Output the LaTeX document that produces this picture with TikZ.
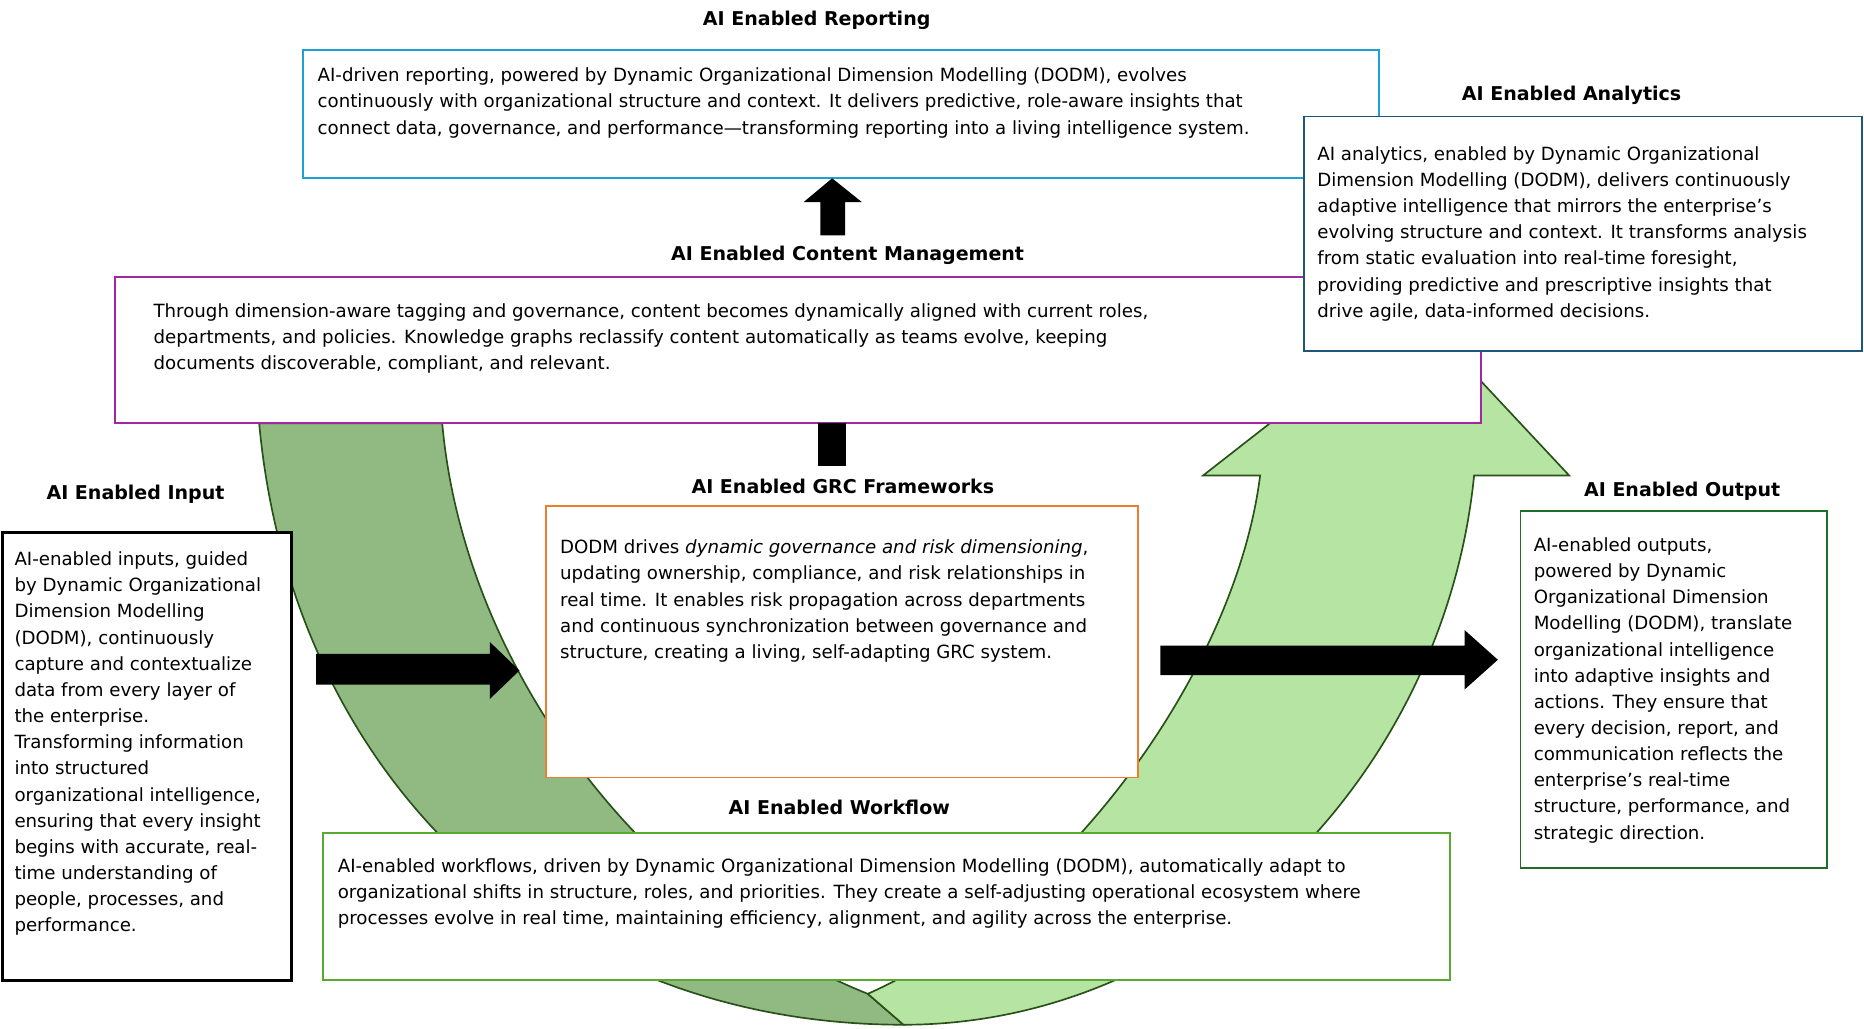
\documentclass[tikz,border=0pt]{standalone}
\usepackage{fontspec}
\setmainfont{DejaVu Sans}
\usetikzlibrary{positioning,shapes.arrows}
\definecolor{cyanline}{RGB}{30,160,210}
\definecolor{tealline}{RGB}{31,85,120}
\definecolor{purpline}{RGB}{160,40,160}
\definecolor{orangeline}{RGB}{237,125,49}
\definecolor{dgreenline}{RGB}{30,110,40}
\definecolor{lgreenline}{RGB}{90,170,50}
\definecolor{bandout}{RGB}{40,80,25}
\definecolor{banddark}{RGB}{145,185,130}
\definecolor{bandlight}{RGB}{182,228,162}
\begin{document}
\begin{tikzpicture}[x=1pt,y=-1pt,font=\fontsize{15.3}{22}\selectfont]
		\tikzset{box/.style = {fill=white,line width=1.6pt}}
		\tikzset{txt/.style = {anchor=north west,align=left,inner sep=0pt}}
		\tikzset{title/.style = {font=\fontsize{16}{20}\selectfont\bfseries}}
		\tikzset{band/.style = {draw=bandout,line width=1.4pt}}
		\useasboundingbox (0,0) rectangle (1568,865);
		% curved arrow
		\path[band,fill=banddark] (218,356) .. controls (245,650) and (460,862) .. (760,862)
			-- (730,836) .. controls (540,760) and (390,560) .. (372,356) -- cycle;
		\path[band,fill=bandlight] (730,836) .. controls (900,760) and (1040,560) .. (1060,400)
			-- (1012,400) -- (1190,261) -- (1320,400) -- (1240,400)
			.. controls (1215,650) and (1010,862) .. (760,862) -- cycle;
		% boxes
		\draw[box,draw=cyanline] (255,42) rectangle (1160,150);
		\node[txt] (rep) at (267,57) {AI-driven reporting, powered by Dynamic Organizational Dimension Modelling (DODM), evolves\\continuously with organizational structure and context. It delivers predictive, role-aware insights that\\connect data, governance, and performance---transforming reporting into a living intelligence system.};
		\node[title] (reptitle) at (687,17) {AI Enabled Reporting};
		\draw[box,draw=purpline] (97,233) rectangle (1246,356);
		\node[txt] (cms) at (129,255) {Through dimension-aware tagging and governance, content becomes dynamically aligned with current roles,\\departments, and policies. Knowledge graphs reclassify content automatically as teams evolve, keeping\\documents discoverable, compliant, and relevant.};
		\node[title] (cmstitle) at (713,215) {AI Enabled Content Management};
		\draw[box,draw=tealline] (1097,98) rectangle (1566,295);
		\node[txt] (ana) at (1108,123) {AI analytics, enabled by Dynamic Organizational\\Dimension Modelling (DODM), delivers continuously\\adaptive intelligence that mirrors the enterprise’s\\evolving structure and context. It transforms analysis\\from static evaluation into real-time foresight,\\providing predictive and prescriptive insights that\\drive agile, data-informed decisions.};
		\node[title] (anatitle) at (1322,80) {AI Enabled Analytics};
		\draw[box,draw=black,line width=2.4pt] (2,448) rectangle (245,825);
		\node[txt] (inp) at (12,464) {AI-enabled inputs, guided\\by Dynamic Organizational\\Dimension Modelling\\(DODM), continuously\\capture and contextualize\\data from every layer of\\the enterprise.\\Transforming information\\into structured\\organizational intelligence,\\ensuring that every insight\\begins with accurate, real-\\time understanding of\\people, processes, and\\performance.};
		\node[title] (inptitle) at (114,416) {AI Enabled Input};
		\draw[box,draw=orangeline] (459,426) rectangle (957,654);
		\node[txt] (grc) at (471,454) {DODM drives \textit{dynamic governance and risk dimensioning},\\updating ownership, compliance, and risk relationships in\\real time. It enables risk propagation across departments\\and continuous synchronization between governance and\\structure, creating a living, self-adapting GRC system.};
		\node[title] (grctitle) at (709,409) {AI Enabled GRC Frameworks};
		\draw[box,draw=dgreenline] (1279,430) rectangle (1537,730);
		\node[txt] (out) at (1290,452) {AI-enabled outputs,\\powered by Dynamic\\Organizational Dimension\\Modelling (DODM), translate\\organizational intelligence\\into adaptive insights and\\actions. They ensure that\\every decision, report, and\\communication reflects the\\enterprise’s real-time\\structure, performance, and\\strategic direction.};
		\node[title] (outtitle) at (1415,413) {AI Enabled Output};
		\draw[box,draw=lgreenline] (272,701) rectangle (1220,824);
		\node[txt] (wf) at (284,722) {AI-enabled workflows, driven by Dynamic Organizational Dimension Modelling (DODM), automatically adapt to\\organizational shifts in structure, roles, and priorities. They create a self-adjusting operational ecosystem where\\processes evolve in real time, maintaining efficiency, alignment, and agility across the enterprise.};
		\node[title] (wftitle) at (706,679) {AI Enabled Workflow};
		% block arrows
		\fill (688,356) rectangle (712,392);
		\fill (690,198) -- (690,170) -- (676,170) -- (700,150) -- (725,170) -- (711,170) -- (711,198) -- cycle;
		\fill (266,550) -- (412,550) -- (412,540) -- (437,564) -- (412,588) -- (412,576) -- (266,576) -- cycle;
		\fill (976,543) -- (1232,543) -- (1232,530) -- (1260,555) -- (1232,580) -- (1232,568) -- (976,568) -- cycle;
	\end{tikzpicture}
\end{document}
